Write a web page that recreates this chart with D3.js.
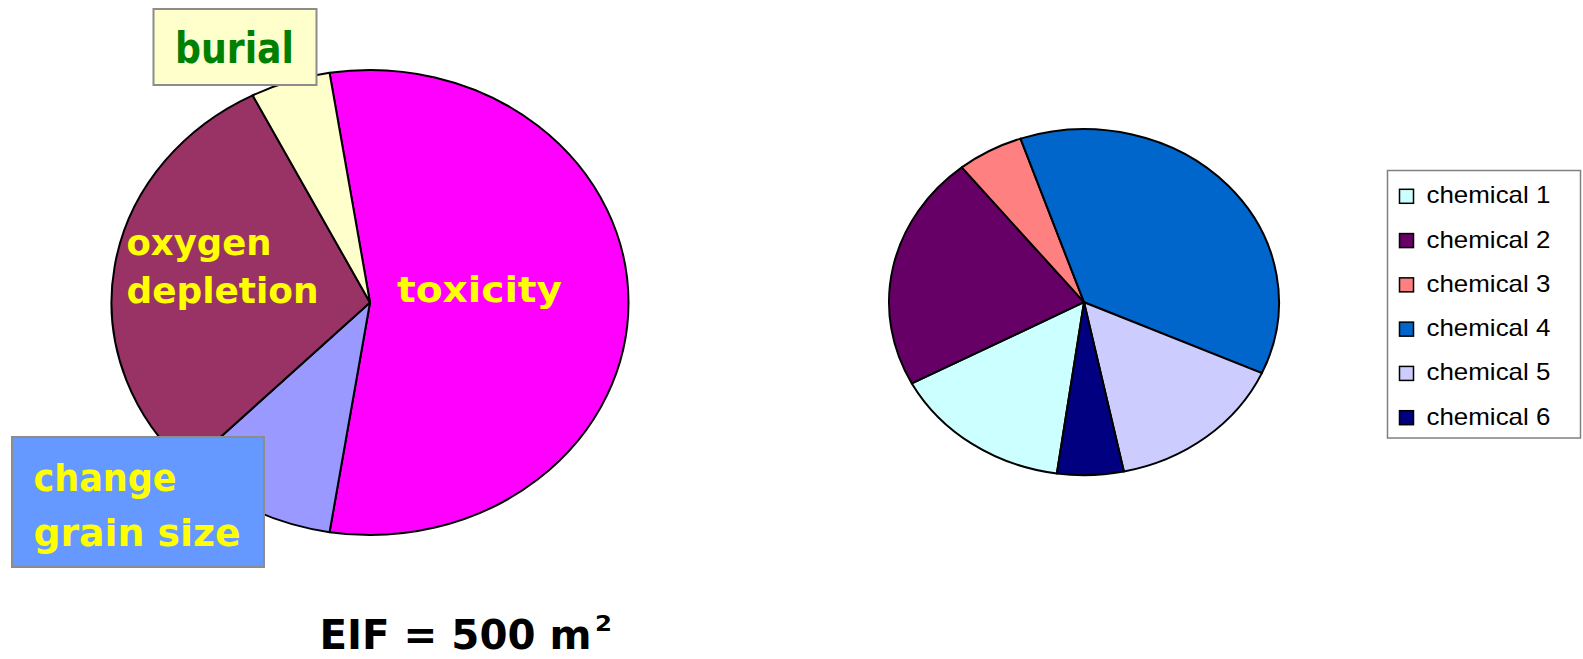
<!DOCTYPE html>
<html>
<head>
<meta charset="utf-8">
<script src="https://cdn.jsdelivr.net/npm/d3@7"></script>
<style>
  html, body { margin: 0; padding: 0; background: #ffffff; }
  svg { display: block; }
</style>
</head>
<body>
<svg id="chart" width="1583" height="659"></svg>
<script>
// Impact categories contributing to the EIF (left pie)
const impactCategories = ["toxicity", "change grain size", "oxygen depletion", "burial"];
const impactShares = [55, 10, 30, 5];
const impactColors = ["#FF00FF", "#9999FF", "#993366", "#FFFFCC"];

// Chemical contributions to the toxicity part (right pie)
const chemicalNames = ["chemical 1", "chemical 2", "chemical 3", "chemical 4", "chemical 5", "chemical 6"];
const chemicalShares = [15, 22, 5.5, 37, 15, 5.5];
const chemicalColors = ["#CCFFFF", "#660066", "#FF8080", "#0066CC", "#CCCCFF", "#000080"];

// Headline figure
const eifText = "EIF = 500 m";
const eifUnitPower = "2";

const svg = d3.select("#chart");
const deg = Math.PI / 180;
const labelFont = "'DejaVu Sans', Verdana, sans-serif";

// Draw an elliptical pie: a circular d3.arc squashed vertically
function drawPie(values, colors, opts) {
  const pie = d3.pie().sort(null).value(d => d)
    .startAngle(opts.start * deg).endAngle((opts.start + 360) * deg);
  const arc = d3.arc().innerRadius(0).outerRadius(opts.rx);
  const g = svg.append("g")
    .attr("transform", `translate(${opts.cx},${opts.cy}) scale(1,${opts.ry / opts.rx})`);
  g.selectAll("path")
    .data(pie(values))
    .join("path")
    .attr("d", arc)
    .attr("fill", (d, i) => colors[i])
    .attr("stroke", "#000")
    .attr("stroke-width", 2)
    .attr("stroke-linejoin", "round")
    .attr("vector-effect", "non-scaling-stroke");
  return g;
}

// ---- Left pie: impact categories
drawPie(impactShares, impactColors, { cx: 370, cy: 302.5, rx: 258.5, ry: 232.5, start: -9 });

function label(text, x, y, size, len, color) {
  return svg.append("text")
    .attr("x", x).attr("y", y)
    .attr("font-family", labelFont)
    .attr("font-weight", "bold")
    .attr("font-size", size)
    .attr("fill", color)
    .attr("textLength", len)
    .attr("lengthAdjust", "spacingAndGlyphs")
    .text(text);
}

// in-slice labels
label(impactCategories[0], 397, 302, 35, 165, "#FFFF00");
label("oxygen", 126.5, 255, 36, 145, "#FFFF00");
label("depletion", 126.5, 302.5, 36, 192, "#FFFF00");

// boxed callouts
svg.append("rect")
  .attr("x", 153.5).attr("y", 9).attr("width", 163).attr("height", 76)
  .attr("fill", "#FFFFCC").attr("stroke", "#8C8C8C").attr("stroke-width", 2);
label(impactCategories[3], 175, 62.5, 43, 119, "#008000");

svg.append("rect")
  .attr("x", 12).attr("y", 437).attr("width", 252).attr("height", 130)
  .attr("fill", "#6699FF").attr("stroke", "#8C8C8C").attr("stroke-width", 2);
label("change", 33.5, 491, 38, 143, "#FFFF00");
label("grain size", 33.5, 546, 38, 207, "#FFFF00");

// headline with squared unit
label(eifText, 319.5, 649, 40, 272, "#000");
label(eifUnitPower, 595, 631, 21, 17, "#000");

// ---- Right pie: chemicals
drawPie(chemicalShares, chemicalColors, { cx: 1084, cy: 302.2, rx: 195, ry: 173, start: 188 });

// legend
const legend = svg.append("g");
legend.append("rect")
  .attr("x", 1387.5).attr("y", 170.5).attr("width", 193).attr("height", 267.5)
  .attr("fill", "#fff").attr("stroke", "#808080").attr("stroke-width", 1.5);

const rowY = d3.scalePoint().domain(chemicalNames).range([203.3, 424.7]);
const rows = legend.selectAll("g.row")
  .data(chemicalNames)
  .join("g")
  .attr("class", "row")
  .attr("transform", d => `translate(0,${rowY(d)})`);
rows.append("rect")
  .attr("x", 1399.5).attr("y", -14).attr("width", 14).attr("height", 14)
  .attr("fill", (d, i) => chemicalColors[i])
  .attr("stroke", "#000").attr("stroke-width", 1.5);
rows.append("text")
  .attr("transform", "translate(1426.5,0) scale(1.127,1)")
  .attr("font-family", "'Liberation Sans', Arial, sans-serif")
  .attr("font-size", 23)
  .attr("fill", "#000")
  .text(d => d);
</script>
</body>
</html>
